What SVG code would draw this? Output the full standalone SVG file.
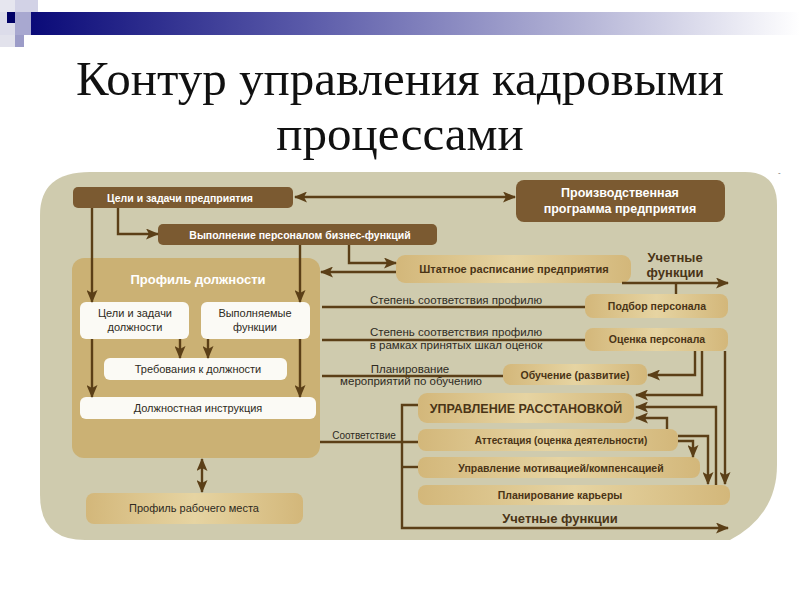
<svg xmlns="http://www.w3.org/2000/svg" width="800" height="600" viewBox="0 0 800 600">
<style>
.title{font-family:"Liberation Serif","Times New Roman",serif;font-size:49px;fill:#111;text-anchor:middle}
.dk{fill:#7b5a31}
.wt{font-family:"Liberation Sans",Arial,sans-serif;font-weight:bold;fill:#fff;text-anchor:middle}
.bt{font-family:"Liberation Sans",Arial,sans-serif;font-weight:bold;fill:#4a3416;text-anchor:middle}
.rt{font-family:"Liberation Sans",Arial,sans-serif;fill:#2e2a22;text-anchor:middle}
.wbox{fill:#fbfaf5}
.ln{fill:none;stroke:#5b3f17;stroke-width:2.4}
</style>
<defs>
<linearGradient id="hdr" x1="0" y1="0" x2="1" y2="0">
<stop offset="0" stop-color="#0a0a78"/>
<stop offset="0.35" stop-color="#5858a8"/>
<stop offset="0.7" stop-color="#b0b0d4"/>
<stop offset="1" stop-color="#ffffff"/>
</linearGradient>
<linearGradient id="tan" x1="0" y1="0" x2="1" y2="0">
<stop offset="0" stop-color="#d3b77a"/>
<stop offset="0.5" stop-color="#e6d4a2"/>
<stop offset="1" stop-color="#d3b77a"/>
</linearGradient>
<marker id="ah" markerUnits="userSpaceOnUse" markerWidth="13" markerHeight="11" refX="12" refY="5.5" orient="auto-start-reverse">
<path d="M0,0 L13,5.5 L0,11 L3,5.5 z" fill="#5b3f17"/>
</marker>
</defs>
<rect width="800" height="600" fill="#fff"/>
<!-- header decoration -->
<rect x="0" y="0" width="15" height="12" fill="#e6e6ef"/>
<rect x="15" y="0" width="23" height="12" fill="#d2d2e6"/>
<rect x="30" y="12" width="770" height="23" fill="url(#hdr)"/>
<rect x="0" y="12" width="15" height="23" fill="#dcdcea"/>
<rect x="7" y="12" width="9" height="11" fill="#000066"/>
<rect x="15" y="12" width="16" height="23" fill="#a8a8d0"/>
<rect x="0" y="35" width="15" height="12" fill="#e2e2ec"/>
<rect x="15" y="35" width="9" height="12" fill="#9c9cc8"/>
<text class="title" x="400" y="95">Контур управления кадровыми</text>
<text class="title" x="400" y="150">процессами</text>
<!-- background panel -->
<path d="M 90 172 H 745 Q 777 172 777 205 V 465 Q 777 515 730 540 H 85 Q 40 540 40 495 V 215 Q 40 172 90 172 Z" fill="#cfcbae"/>
<text x="778" y="175" font-family="Liberation Sans, sans-serif" font-size="8" fill="#666">-</text>

<g id="n-celi-pred"><rect class="dk" x="73" y="187" width="220" height="21" rx="5"/><text class="wt" x="180" y="201.5" font-size="10.5">Цели и задачи предприятия</text></g>
<g id="n-vypoln"><rect class="dk" x="158" y="224" width="279" height="21" rx="5"/><text class="wt" x="300" y="238.5" font-size="10.5">Выполнение персоналом бизнес-функций</text></g>
<g id="n-proizv"><rect class="dk" x="516" y="180" width="209" height="42" rx="8"/><text class="wt" x="620" y="197" font-size="12.5">Производственная</text><text class="wt" x="620" y="213" font-size="12.5">программа предприятия</text></g>

<g id="n-profil"><rect x="72" y="258" width="248" height="200" rx="12" fill="#cbb174"/><text class="wt" x="198" y="284" font-size="13">Профиль должности</text></g>
<g id="n-celi-dolzh"><rect class="wbox" x="80" y="302" width="109" height="37" rx="6"/><text class="rt" x="135" y="317" font-size="11">Цели и задачи</text><text class="rt" x="135" y="331" font-size="11">должности</text></g>
<g id="n-vypfunk"><rect class="wbox" x="201" y="302" width="109" height="37" rx="6"/><text class="rt" x="255" y="317" font-size="11">Выполняемые</text><text class="rt" x="255" y="331" font-size="11">функции</text></g>
<g id="n-treb"><rect class="wbox" x="104" y="358" width="183" height="22" rx="6"/><text class="rt" x="198" y="373" font-size="11">Требования к должности</text></g>
<g id="n-instr"><rect class="wbox" x="80" y="397" width="236" height="22" rx="6"/><text class="rt" x="198" y="412" font-size="11">Должностная инструкция</text></g>
<g id="n-rabmesto"><rect x="86" y="493" width="217" height="31" rx="8" fill="url(#tan)"/><text class="rt" x="194" y="512" font-size="11">Профиль рабочего места</text></g>

<g id="n-shtat"><rect x="396" y="255" width="235" height="28" rx="9" fill="url(#tan)"/><text class="bt" x="514" y="273" font-size="11" fill="#3e3220">Штатное расписание предприятия</text></g>
<g id="n-podbor"><rect x="585" y="294" width="143" height="24" rx="8" fill="url(#tan)"/><text class="bt" x="657" y="310" font-size="10.5">Подбор персонала</text></g>
<g id="n-ocenka"><rect x="585" y="328" width="143" height="23" rx="8" fill="url(#tan)"/><text class="bt" x="657" y="343" font-size="10.5">Оценка персонала</text></g>
<g id="n-obuch"><rect x="503" y="364" width="144" height="21" rx="8" fill="url(#tan)"/><text class="bt" x="575" y="378.5" font-size="10.5">Обучение (развитие)</text></g>
<g id="n-rasst"><rect x="418" y="393" width="216" height="30" rx="9" fill="url(#tan)"/><text class="bt" x="526" y="412.5" font-size="12.5">УПРАВЛЕНИЕ РАССТАНОВКОЙ</text></g>
<g id="n-attest"><rect x="418" y="429" width="260" height="22" rx="8" fill="url(#tan)"/><text class="bt" x="561" y="443.5" font-size="10">Аттестация (оценка деятельности)</text></g>
<g id="n-motiv"><rect x="418" y="457" width="282" height="21" rx="8" fill="url(#tan)"/><text class="bt" x="561" y="471.5" font-size="10.5">Управление мотивацией/компенсацией</text></g>
<g id="n-karier"><rect x="418" y="485" width="312" height="20" rx="8" fill="url(#tan)"/><text class="bt" x="560" y="499" font-size="10.5">Планирование карьеры</text></g>

<g id="labels">
<text class="bt" x="675" y="262" font-size="13">Учетные</text>
<text class="bt" x="675" y="277" font-size="13">функции</text>
<text class="bt" x="560" y="523" font-size="13">Учетные функции</text>
<text class="rt" x="456" y="304" font-size="11.5">Степень соответствия профилю</text>
<text class="rt" x="456" y="336" font-size="11.5">Степень соответствия профилю</text>
<text class="rt" x="456" y="349" font-size="11.5">в рамках принятых шкал оценок</text>
<text class="rt" x="410" y="373" font-size="11.5">Планирование</text>
<text class="rt" x="411" y="385" font-size="11.5">мероприятий по обучению</text>
<text class="rt" x="364" y="439" font-size="10">Соответствие</text>
</g>

<g id="connectors">
<path class="ln" d="M 295 197 H 515" marker-start="url(#ah)" marker-end="url(#ah)"/>
<path class="ln" d="M 92 208 V 302" marker-end="url(#ah)"/>
<path class="ln" d="M 118 208 V 234 H 158" marker-end="url(#ah)"/>
<path class="ln" d="M 300 245 V 302" marker-end="url(#ah)"/>
<path class="ln" d="M 349 245 V 263 H 396" marker-end="url(#ah)"/>
<path class="ln" d="M 396 272 H 321" marker-end="url(#ah)"/>
<path class="ln" d="M 180 339 V 358" marker-end="url(#ah)"/>
<path class="ln" d="M 208 339 V 358" marker-end="url(#ah)"/>
<path class="ln" d="M 92 339 V 397" marker-end="url(#ah)"/>
<path class="ln" d="M 300 339 V 397" marker-end="url(#ah)"/>
<path class="ln" d="M 202 459 V 492" marker-start="url(#ah)" marker-end="url(#ah)"/>
<path class="ln" d="M 622 283 H 728" marker-end="url(#ah)"/>
<path class="ln" d="M 676 283 V 294"/>
<path class="ln" d="M 322 307 H 585"/>
<path class="ln" d="M 322 340 H 585"/>
<path class="ln" d="M 322 376 H 503"/>
<path class="ln" d="M 320 442 H 418"/>
<path class="ln" d="M 418 405 H 402 V 528 H 728" marker-end="url(#ah)"/>
<path class="ln" d="M 402 467 H 418"/>
<path class="ln" d="M 695 351 V 375 H 648" marker-end="url(#ah)"/>
<path class="ln" d="M 702 351 V 395 H 636" marker-end="url(#ah)"/>
<path class="ln" d="M 725 351 V 484" marker-end="url(#ah)"/>
<path class="ln" d="M 716 485 V 407 H 636" marker-end="url(#ah)"/>
<path class="ln" d="M 667 429 V 418 H 636" marker-end="url(#ah)"/>
<path class="ln" d="M 678 436 H 708 V 484" marker-end="url(#ah)"/>
<path class="ln" d="M 678 441 H 693 V 457" marker-end="url(#ah)"/>
</g>
</svg>
